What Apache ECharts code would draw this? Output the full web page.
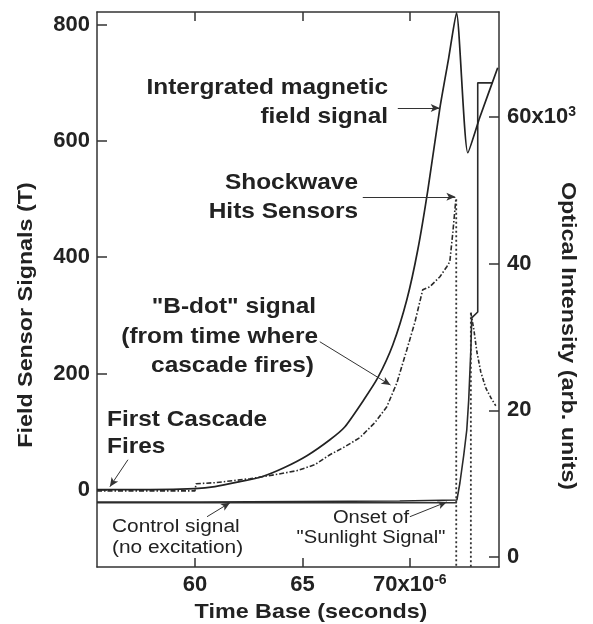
<!DOCTYPE html>
<html>
<head>
<meta charset="utf-8">
<style>
  html, body { margin: 0; padding: 0; background: #ffffff; }
  #chart { width: 593px; height: 624px; }
</style>
<script src="https://cdn.jsdelivr.net/npm/echarts@6/dist/echarts.min.js"></script>
</head>
<body>
<div id="chart"></div>
<script>
// ---------------- data ----------------
// time base in microseconds (axis label 70x10^-6 s)
const xTickValues = [60, 65, 70];
const leftTickValues = [0, 200, 400, 600, 800];
const rightTickValues = [0, 20, 40, 60];

// Integrated magnetic field signal (T, left axis)
const integratedTime = [55.44, 57.91, 60.0, 60.93, 62.09, 63.11, 64.14, 65.21, 66.28, 66.98, 67.86, 68.51, 69.21, 69.86, 70.37, 70.84, 71.4, 71.81, 72.17, 72.7, 73.25, 74.09];
const integratedValue = [0, 0, 1.7, 5.2, 13.8, 22.4, 37.8, 58.5, 86, 108.4, 154.8, 192.7, 249.5, 326.9, 412.9, 516.1, 657.2, 743.2, 820.6, 579.8, 640, 726];

// "B-dot" signal (T, left axis), before the shockwave
const bdotTime = [55.44, 57.91, 60.0, 60.05, 60.93, 62.56, 63.72, 64.74, 65.58, 66.28, 66.98, 67.67, 68.37, 68.93, 69.4, 69.86, 70.23, 70.6, 70.93, 71.4, 71.72, 71.86, 72.0, 72.14];
const bdotValue = [-2, -2, -2, 10.3, 12, 18.9, 25.8, 32.7, 43, 60.2, 74, 89.5, 115.3, 142.8, 184.1, 240.9, 287.3, 344.1, 349.2, 366.5, 383.7, 392.3, 442.2, 498.9];

// "B-dot" signal after the shockwave
const bdotLateTime = [72.84, 72.98, 73.12, 73.3, 73.53, 73.77, 74.0];
const bdotLateValue = [304.5, 275.3, 237.4, 203, 175.5, 158.3, 144.5];

// Optical intensity (x10^3 arb. units, right axis)
const opticalTime = [55.44, 60.23, 64.88, 69.53, 72.19, 72.33, 72.51, 72.65, 72.74, 72.84, 72.88, 73.16, 73.16, 73.86];
const opticalValue = [7.5, 7.5, 7.57, 7.64, 7.77, 10.09, 13.91, 17.32, 21.41, 28.23, 32.6, 33.41, 64.64, 64.64];

// Control signal (no excitation), left axis
const controlTime = [55.44, 72.19];
const controlValue = [-22.4, -22.4];

// vertical dotted time markers (time, top value on left axis)
const markerTime = [72.16, 72.84];
const markerTop = [500, 304.5];

// annotation arrows in data units (left axis): [x1, y1, x2, y2]
const arrowIntegrated = [69.44, 657, 71.39, 657];
const arrowShock = [67.81, 504, 72.12, 504];
const arrowBdot = [65.81, 254.6, 69.1, 180];
const arrowCascade = [56.88, 51.6, 56.04, 5.2];
const arrowControl = [60.56, -46.5, 61.63, -22.4];
const arrowOnset = [70.0, -46.5, 71.72, -21];

// ---------------- chart ----------------
const zip = (a, b) => a.map((v, i) => [v, b[i]]);
const X_MIN = 55.44, X_MAX = 74.15;
const YL_MIN = -133, YL_MAX = 822;
const YR_MIN = -1.36, YR_MAX = 74.3;
const FONT = '"Liberation Sans", Arial, sans-serif';
const INK = '#222';

const chart = echarts.init(document.getElementById('chart'), null, { renderer: 'canvas' });

const tickStyle = { show: true, inside: true, length: 10, lineStyle: { color: '#333', width: 1.5 } };
const axisLineStyle = { show: true, onZero: false, lineStyle: { color: '#333', width: 1.5 } };
const labelBase = { color: INK, fontSize: 22, fontWeight: 'bold', fontFamily: FONT };
const rich = {
  b: { color: INK, fontSize: 22, fontWeight: 'bold', fontFamily: FONT, lineHeight: 24 },
  s: { color: INK, fontSize: 14, fontWeight: 'bold', fontFamily: FONT, lineHeight: 14, verticalAlign: 'top' }
};

const arrows = [arrowIntegrated, arrowShock, arrowBdot, arrowCascade, arrowControl, arrowOnset];

const markerSeries = markerTime.map((t, i) => ({
  type: 'line', xAxisIndex: 0, yAxisIndex: 0, symbol: 'none', silent: true,
  data: [[t, markerTop[i]], [t, YL_MIN]],
  lineStyle: { color: '#333', width: 1.8, type: [2, 2.5] }
}));

function txt(text, x, y, opts) {
  opts = opts || {};
  return {
    type: 'text', x: x, y: y, rotation: opts.rotation || 0,
    scaleX: opts.scaleX || 1.11, scaleY: 1,
    silent: true,
    style: {
      text: text,
      font: (opts.weight || 'bold') + ' ' + (opts.size || 22) + 'px ' + FONT,
      fill: INK,
      align: opts.align || 'left',
      verticalAlign: 'middle'
    }
  };
}

const option = {
  animation: false,
  backgroundColor: '#ffffff',
  grid: { left: 97, top: 12, right: 94, bottom: 57, containLabel: false },
  xAxis: [
    {
      type: 'value', position: 'bottom', min: X_MIN, max: X_MAX,
      axisLine: axisLineStyle,
      axisTick: Object.assign({}, tickStyle, { length: 9, customValues: xTickValues }),
      splitLine: { show: false },
      axisLabel: Object.assign({}, labelBase, {
        margin: 6, customValues: xTickValues, rich: rich,
        formatter: v => (v === 70 ? '{b|70x10}{s|-6}' : '{b|' + v + '}')
      })
    },
    {
      type: 'value', position: 'top', min: X_MIN, max: X_MAX,
      axisLine: axisLineStyle,
      axisTick: Object.assign({}, tickStyle, { length: 9, customValues: xTickValues }),
      splitLine: { show: false },
      axisLabel: { show: false }
    }
  ],
  yAxis: [
    {
      type: 'value', position: 'left', min: YL_MIN, max: YL_MAX,
      axisLine: axisLineStyle,
      axisTick: Object.assign({}, tickStyle, { customValues: leftTickValues }),
      splitLine: { show: false },
      axisLabel: Object.assign({}, labelBase, { margin: 7, customValues: leftTickValues })
    },
    {
      type: 'value', position: 'right', min: YR_MIN, max: YR_MAX,
      axisLine: axisLineStyle,
      axisTick: Object.assign({}, tickStyle, { customValues: rightTickValues }),
      splitLine: { show: false },
      axisLabel: Object.assign({}, labelBase, {
        margin: 8, customValues: rightTickValues, rich: rich,
        formatter: v => (v === 60 ? '{b|60x10}{s|3}' : '{b|' + v + '}')
      })
    }
  ],
  series: [
    {
      name: 'Control signal', type: 'line', xAxisIndex: 0, yAxisIndex: 0, symbol: 'none', silent: true,
      data: zip(controlTime, controlValue),
      lineStyle: { color: '#333', width: 1.6 },
      markLine: {
        silent: true, symbol: ['none', 'arrow'], symbolSize: [6, 9], precision: 4,
        label: { show: false },
        lineStyle: { color: '#333', width: 1, type: 'solid' },
        data: arrows.map(a => [{ coord: [a[0], a[1]] }, { coord: [a[2], a[3]] }])
      }
    },
    {
      name: 'Optical intensity', type: 'line', xAxisIndex: 0, yAxisIndex: 1, symbol: 'none', silent: true,
      data: zip(opticalTime, opticalValue),
      lineStyle: { color: '#2a2a2a', width: 1.6 }
    },
    {
      name: 'Integrated magnetic field signal', type: 'line', xAxisIndex: 0, yAxisIndex: 0, symbol: 'none', silent: true,
      smooth: 0.2,
      data: zip(integratedTime, integratedValue),
      lineStyle: { color: '#222', width: 1.7 }
    },
    {
      name: 'B-dot signal', type: 'line', xAxisIndex: 0, yAxisIndex: 0, symbol: 'none', silent: true,
      data: zip(bdotTime, bdotValue),
      lineStyle: { color: '#2a2a2a', width: 1.6, type: [5, 2, 1.5, 2] }
    },
    {
      name: 'B-dot late', type: 'line', xAxisIndex: 0, yAxisIndex: 0, symbol: 'none', silent: true,
      data: zip(bdotLateTime, bdotLateValue),
      lineStyle: { color: '#2a2a2a', width: 1.6, type: [4, 2, 1.5, 2] }
    }
  ].concat(markerSeries),
  graphic: [
    // axis titles
    txt('Field Sensor Signals (T)', 26, 315, { rotation: Math.PI / 2, align: 'center', size: 21 }),
    txt('Optical Intensity (arb. units)', 568, 336, { rotation: -Math.PI / 2, align: 'center', size: 21 }),
    txt('Time Base (seconds)', 311, 612, { align: 'center', size: 21 }),
    // annotations
    txt('Intergrated magnetic', 388, 88, { align: 'right' }),
    txt('field signal', 388, 117, { align: 'right' }),
    txt('Shockwave', 358, 183, { align: 'right' }),
    txt('Hits Sensors', 358, 212, { align: 'right' }),
    txt('"B-dot" signal', 316, 307, { align: 'right' }),
    txt('(from time where', 318, 337, { align: 'right' }),
    txt('cascade fires)', 314, 366, { align: 'right' }),
    txt('First Cascade', 107, 420, { align: 'left' }),
    txt('Fires', 107, 447, { align: 'left' }),
    txt('Control signal', 112, 527, { align: 'left', weight: 'normal', size: 18, scaleX: 1.16 }),
    txt('(no excitation)', 112, 548, { align: 'left', weight: 'normal', size: 18, scaleX: 1.16 }),
    txt('Onset of', 371, 518, { align: 'center', weight: 'normal', size: 18, scaleX: 1.12 }),
    txt('"Sunlight Signal"', 371, 538, { align: 'center', weight: 'normal', size: 18, scaleX: 1.12 })
  ]
};

chart.setOption(option);
</script>
</body>
</html>
